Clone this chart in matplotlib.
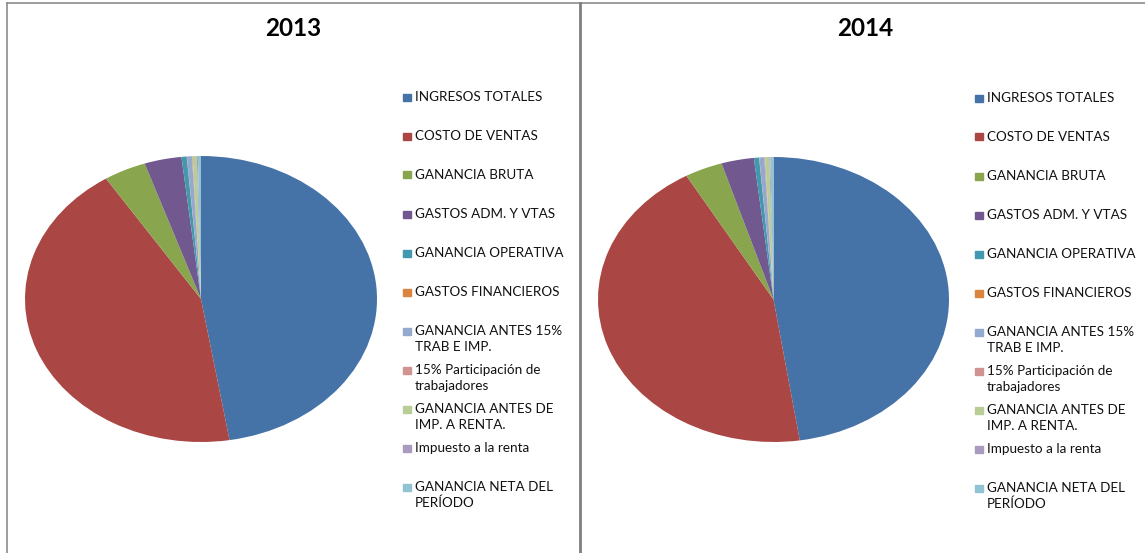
import matplotlib
matplotlib.use('Agg')
import matplotlib.pyplot as plt
from matplotlib.patches import Rectangle
from matplotlib.lines import Line2D

# data (ingresos totales = 100)
labels = [
    "INGRESOS TOTALES",
    "COSTO DE VENTAS",
    "GANANCIA BRUTA",
    "GASTOS ADM. Y VTAS",
    "GANANCIA OPERATIVA",
    "GASTOS FINANCIEROS",
    "GANANCIA ANTES 15%\nTRAB E IMP.",
    "15% Participación de\ntrabajadores",
    "GANANCIA ANTES DE\nIMP. A RENTA.",
    "Impuesto a la renta",
    "GANANCIA NETA DEL\nPERÍODO",
]
values_2013 = [100, 91.8, 8.2, 7.2, 1.0, 0.06, 0.94, 0.14, 0.8, 0.2, 0.6]
values_2014 = [100, 92.7, 7.3, 6.3, 1.0, 0.05, 0.95, 0.14, 0.81, 0.2, 0.61]
years = ["2013", "2014"]

colors = ['#4572A7', '#AA4643', '#89A54E', '#71588F', '#4198AF', '#DB843D',
          '#93A9CF', '#D19392', '#B9CD96', '#A99BBD', '#92C3D4']

W, H = 1145, 553
fig = plt.figure(figsize=(W / 100, H / 100), dpi=100)


def fx(px):
    return px / W


def fy(py):
    return 1 - py / H


# panel borders
fig.add_artist(Line2D([fx(7), 1], [fy(3), fy(3)], color='#8c8c8c', lw=1.2))
fig.add_artist(Line2D([fx(7), fx(7)], [fy(3), 0], color='#8c8c8c', lw=1.2))
fig.add_artist(Line2D([fx(579.5), fx(579.5)], [fy(3), 0], color='#7f7f7f', lw=2))

# per panel: pie box (left, top, right, bottom in px), title x, legend x, legend y offset
panels = [
    (25, 156, 377, 442, 293, 403, 97),
    (598, 157, 949, 442, 865, 975, 98),
]

for (l, t, r, b, tx, lx, ly), year, vals in zip(panels, years, [values_2013, values_2014]):
    ax = fig.add_axes([fx(l), fy(b), fx(r - l), (b - t) / H])
    ax.pie(vals, colors=colors, startangle=90, counterclock=False,
           wedgeprops=dict(linewidth=0))
    ax.set_aspect('auto')
    ax.set_xlim(-1, 1)
    ax.set_ylim(-1, 1)
    ax.axis('off')

    fig.text(fx(tx), fy(28), year, ha='center', va='center',
             fontsize=17.5, fontweight='bold', family='Lato')

    for i, (lab, c) in enumerate(zip(labels, colors)):
        y0 = ly + 39 * i
        fig.add_artist(Rectangle((fx(lx), fy(y0 + 3.5)), fx(8), 7 / H,
                                 color=c, transform=fig.transFigure))
        for k, line in enumerate(lab.split('\n')):
            fig.text(fx(lx + 12), fy(y0 + 16 * k), line, ha='left',
                     va='center', fontsize=9.7, family='Lato', color='#111111')

fig.savefig('out.png', dpi=100)
